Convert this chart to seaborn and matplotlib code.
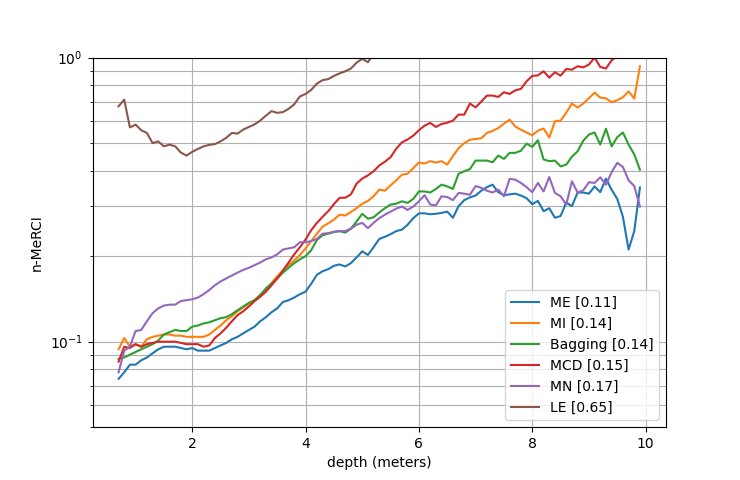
import numpy as np
import pandas as pd
import seaborn as sns
import matplotlib
matplotlib.use("Agg")
import matplotlib.pyplot as plt

# depth grid (meters)
depth = np.round(np.arange(0.7, 9.95, 0.1), 1)

me = [0.074, 0.078, 0.083, 0.083, 0.086, 0.088, 0.091, 0.094, 0.096, 0.096,
      0.096, 0.095, 0.094, 0.095, 0.093, 0.093, 0.093, 0.095, 0.097, 0.099,
      0.102, 0.104, 0.107, 0.110, 0.113, 0.118, 0.122, 0.127, 0.131, 0.138,
      0.140, 0.143, 0.147, 0.150, 0.160, 0.172, 0.177, 0.180, 0.185, 0.187,
      0.184, 0.189, 0.198, 0.208, 0.202, 0.215, 0.230, 0.234, 0.239, 0.245,
      0.248, 0.258, 0.272, 0.283, 0.283, 0.281, 0.282, 0.284, 0.287, 0.273,
      0.300, 0.315, 0.322, 0.327, 0.340, 0.350, 0.357, 0.336, 0.328, 0.330,
      0.332, 0.327, 0.320, 0.305, 0.313, 0.288, 0.295, 0.273, 0.277, 0.309,
      0.300, 0.335, 0.335, 0.332, 0.352, 0.336, 0.375, 0.343, 0.318, 0.275,
      0.211, 0.245, 0.349]

mi = [0.094, 0.103, 0.096, 0.098, 0.096, 0.102, 0.104, 0.105, 0.106, 0.106,
      0.105, 0.105, 0.104, 0.104, 0.104, 0.104, 0.106, 0.110, 0.114, 0.119,
      0.123, 0.128, 0.132, 0.136, 0.140, 0.146, 0.153, 0.161, 0.170, 0.178,
      0.186, 0.193, 0.202, 0.213, 0.226, 0.240, 0.254, 0.261, 0.269, 0.280,
      0.278, 0.286, 0.295, 0.306, 0.313, 0.325, 0.343, 0.340, 0.355, 0.370,
      0.387, 0.390, 0.408, 0.427, 0.424, 0.432, 0.427, 0.432, 0.420, 0.450,
      0.480, 0.500, 0.514, 0.517, 0.520, 0.543, 0.552, 0.565, 0.585, 0.605,
      0.572, 0.557, 0.545, 0.533, 0.553, 0.563, 0.523, 0.597, 0.600, 0.640,
      0.689, 0.667, 0.689, 0.720, 0.753, 0.723, 0.719, 0.696, 0.708, 0.725,
      0.761, 0.717, 0.932]

bagging = [0.087, 0.088, 0.090, 0.092, 0.094, 0.096, 0.098, 0.101, 0.106, 0.108,
           0.110, 0.109, 0.109, 0.113, 0.114, 0.116, 0.117, 0.119, 0.121, 0.122,
           0.125, 0.129, 0.133, 0.137, 0.140, 0.146, 0.154, 0.160, 0.167, 0.175,
           0.182, 0.189, 0.195, 0.200, 0.210, 0.228, 0.237, 0.240, 0.243, 0.245,
           0.242, 0.250, 0.265, 0.282, 0.271, 0.274, 0.285, 0.295, 0.304, 0.306,
           0.312, 0.308, 0.318, 0.338, 0.338, 0.335, 0.345, 0.357, 0.352, 0.345,
           0.390, 0.398, 0.405, 0.434, 0.434, 0.434, 0.428, 0.452, 0.440, 0.462,
           0.462, 0.470, 0.498, 0.485, 0.512, 0.438, 0.432, 0.434, 0.414, 0.420,
           0.448, 0.468, 0.510, 0.536, 0.545, 0.494, 0.562, 0.487, 0.525, 0.545,
           0.494, 0.456, 0.403]

mcd = [0.085, 0.096, 0.095, 0.098, 0.096, 0.098, 0.099, 0.100, 0.100, 0.100,
       0.100, 0.099, 0.098, 0.098, 0.098, 0.096, 0.097, 0.103, 0.107, 0.112,
       0.118, 0.124, 0.128, 0.133, 0.139, 0.144, 0.150, 0.158, 0.167, 0.178,
       0.190, 0.203, 0.215, 0.229, 0.247, 0.262, 0.275, 0.288, 0.305, 0.321,
       0.321, 0.330, 0.360, 0.375, 0.385, 0.398, 0.417, 0.430, 0.446, 0.478,
       0.503, 0.515, 0.531, 0.555, 0.576, 0.589, 0.570, 0.584, 0.590, 0.600,
       0.630, 0.630, 0.689, 0.668, 0.700, 0.735, 0.735, 0.727, 0.755, 0.745,
       0.767, 0.776, 0.825, 0.862, 0.866, 0.895, 0.850, 0.888, 0.864, 0.912,
       0.907, 0.932, 0.924, 0.945, 1.000, 0.927, 0.915, 0.978, 1.010, 1.030,
       1.050, 1.070, 1.100]

mn = [0.078, 0.093, 0.096, 0.109, 0.110, 0.118, 0.126, 0.131, 0.134, 0.135,
      0.135, 0.139, 0.140, 0.141, 0.143, 0.147, 0.152, 0.158, 0.163, 0.167,
      0.171, 0.175, 0.179, 0.182, 0.186, 0.190, 0.195, 0.198, 0.203, 0.211,
      0.213, 0.215, 0.224, 0.224, 0.226, 0.230, 0.240, 0.241, 0.244, 0.245,
      0.245, 0.250, 0.258, 0.262, 0.251, 0.262, 0.272, 0.280, 0.287, 0.294,
      0.299, 0.291, 0.299, 0.312, 0.328, 0.304, 0.302, 0.325, 0.323, 0.315,
      0.334, 0.332, 0.329, 0.353, 0.348, 0.340, 0.335, 0.343, 0.325, 0.374,
      0.372, 0.362, 0.350, 0.336, 0.362, 0.338, 0.380, 0.334, 0.325, 0.304,
      0.367, 0.335, 0.341, 0.364, 0.362, 0.379, 0.357, 0.395, 0.426, 0.412,
      0.370, 0.353, 0.299]

le = [0.674, 0.711, 0.568, 0.581, 0.555, 0.543, 0.500, 0.507, 0.487, 0.494,
      0.487, 0.463, 0.452, 0.466, 0.477, 0.487, 0.493, 0.496, 0.507, 0.522,
      0.543, 0.540, 0.558, 0.570, 0.582, 0.600, 0.625, 0.648, 0.639, 0.643,
      0.660, 0.685, 0.730, 0.745, 0.770, 0.810, 0.833, 0.840, 0.862, 0.880,
      0.895, 0.915, 0.960, 0.990, 0.963, 1.030, 1.050, 1.060, 1.090, 1.120,
      1.150, 1.170, 1.210, 1.240, 1.260, 1.300, 1.330, 1.310, 1.360, 1.400,
      1.420, 1.470, 1.500, 1.530, 1.560, 1.600, 1.620, 1.650, 1.700, 1.720,
      1.750, 1.800, 1.830, 1.860, 1.900, 1.920, 1.960, 2.000, 2.050, 2.080,
      2.100, 2.150, 2.200, 2.230, 2.260, 2.300, 2.350, 2.380, 2.420, 2.460,
      2.500, 2.550, 2.600]

names = ["ME", "MI", "Bagging", "MCD", "MN", "LE"]
scores = [0.11, 0.14, 0.14, 0.15, 0.17, 0.65]
series = [me, mi, bagging, mcd, mn, le]
colors = sns.color_palette("tab10", 6)

fig, ax = plt.subplots(figsize=(7.4, 4.8), dpi=100)

for name, score, vals, c in zip(names, scores, series, colors):
    df = pd.DataFrame({"depth": depth, "merci": vals})
    sns.lineplot(data=df, x="depth", y="merci", ax=ax, color=c,
                 label=f"{name} [{score:.2f}]")

ax.set_yscale("log")
ax.set_ylim(0.05, 1)
ax.grid(True, which="both")
ax.set_xlabel("depth (meters)")
ax.set_ylabel("n-MeRCI")
ax.legend(loc="lower right")

fig.savefig("out.png", dpi=100)
